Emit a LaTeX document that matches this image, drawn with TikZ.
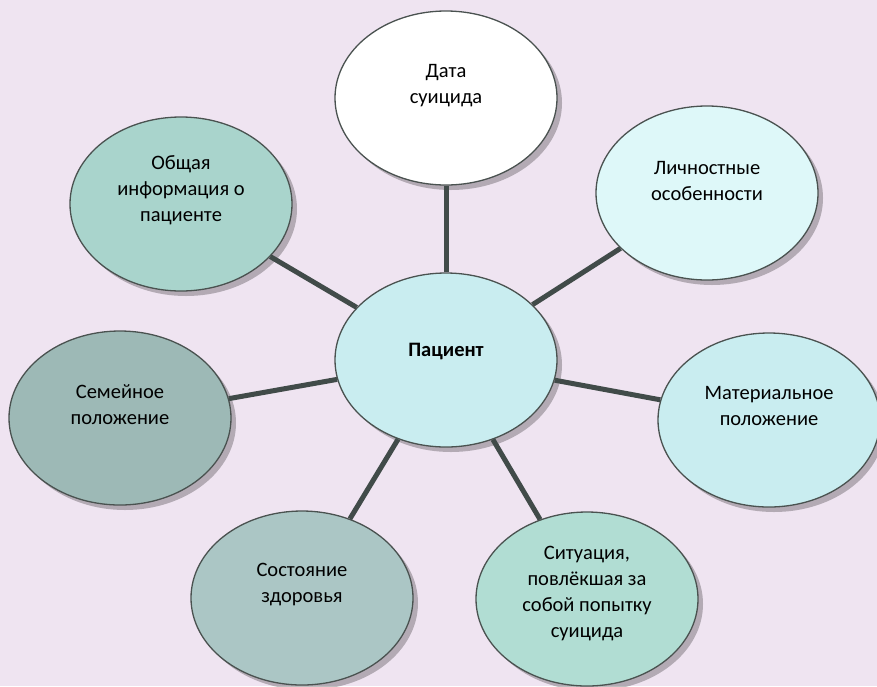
\documentclass[tikz,border=0pt]{standalone}
\usepackage{fontspec}
\setmainfont{Carlito}
\usetikzlibrary{shapes.geometric,shadows}
\definecolor{bgc}{HTML}{EFE4F1}
\definecolor{linec}{HTML}{414B49}
\definecolor{edgec}{HTML}{4A5250}
\definecolor{cA}{HTML}{FFFFFF}
\definecolor{cB}{HTML}{DEF8F9}
\definecolor{cC}{HTML}{A9D4CC}
\definecolor{cD}{HTML}{C9EDF0}
\definecolor{cE}{HTML}{9DB9B6}
\definecolor{cF}{HTML}{C9EDF0}
\definecolor{cG}{HTML}{ABC6C5}
\definecolor{cH}{HTML}{B1DDD3}
\tikzset{
  bubble/.style={ellipse, draw=edgec, line width=1.3pt, minimum width=222pt, minimum height=174pt, inner sep=0pt,
    drop shadow={shadow xshift=5pt, shadow yshift=-5pt, fill=black, opacity=0.25}},
  txt/.style={align=center, font=\fontsize{20.5}{26}\selectfont, text=black, inner sep=0pt},
  spoke/.style={draw=linec, line width=5pt}
}
\begin{document}
\begin{tikzpicture}[x=1pt,y=-1pt]
\fill[bgc] (0,0) rectangle (877,686);
\useasboundingbox (0,0) rectangle (877,686);
\node[bubble, fill=cA] (top) at (446,98) {};
\node[bubble, fill=cB] (pers) at (707,193) {};
\node[bubble, fill=cC] (gen) at (181,204) {};
\node[bubble, fill=cD] (pat) at (446,360) {};
\node[bubble, fill=cE] (fam) at (120,418) {};
\node[bubble, fill=cF] (mat) at (769,420) {};
\node[bubble, fill=cG] (hea) at (302,598) {};
\node[bubble, fill=cH] (sit) at (587,599) {};
\foreach \n in {top,pers,gen,fam,mat,hea,sit}{\draw[spoke] (pat) -- (\n);}
\node[txt] (ttop) at ([yshift=12pt]top.center) {Дата\\суицида};
\node[txt] (tpers) at ([yshift=12pt]pers.center) {Личностные\\особенности};
\node[txt] (tgen) at ([yshift=14pt]gen.center) {Общая\\информация о\\пациенте};
\node[txt, font=\fontsize{20.5}{26}\selectfont\bfseries] (tpat) at ([yshift=9pt]pat.center) {Пациент};
\node[txt] (tfam) at ([yshift=13pt]fam.center) {Семейное\\положение};
\node[txt] (tmat) at ([yshift=14pt]mat.center) {Материальное\\положение};
\node[txt] (thea) at ([yshift=13pt]hea.center) {Состояние\\здоровья};
\node[txt] (tsit) at ([yshift=5pt]sit.center) {Ситуация,\\повлёкшая за\\собой попытку\\суицида};
\end{tikzpicture}
\end{document}
